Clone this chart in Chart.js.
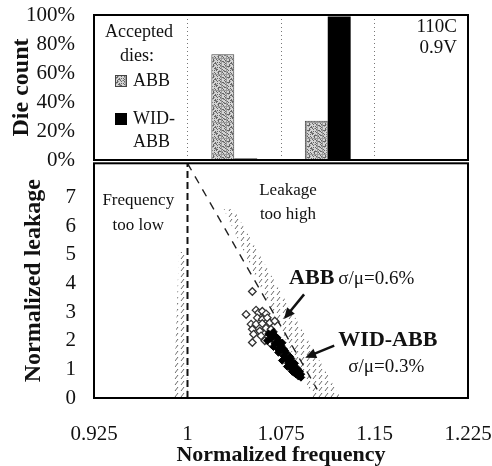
<!DOCTYPE html>
<html>
<head>
<meta charset="utf-8">
<script src="https://cdn.jsdelivr.net/npm/chart.js@4.4.1/dist/chart.umd.min.js"></script>
<style>
  html, body { margin: 0; padding: 0; background: #fff; }
  #wrap { position: relative; width: 492px; height: 466px; }
  #topBox { position: absolute; left: 0; top: 0; }
  #botBox { position: absolute; left: 0; top: 158px; }
</style>
</head>
<body>
<div id="wrap">
  <div id="botBox"><canvas id="leakChart" width="492" height="308"></canvas></div>
  <div id="topBox"><canvas id="countChart" width="492" height="178"></canvas></div>
</div>
<script>
// histogram bins of normalized frequency (same x range as the scatter below)
const binLabels = ['0.925-1', '1-1.075', '1.075-1.15', '1.15-1.225'];
const abbDieCount = [0, 73, 27, 0];
const widAbbDieCount = [0, 1, 99, 0];
const countTicks = [0, 20, 40, 60, 80, 100];

// scatter: normalized frequency / normalized leakage
const freqTicks = [0.925, 1, 1.075, 1.15, 1.225];
const leakTicks = [0, 1, 2, 3, 4, 5, 6, 7];

const abbFreq = [1.052, 1.047, 1.055, 1.057, 1.060, 1.063, 1.056, 1.060, 1.064, 1.051, 1.055, 1.060, 1.066, 1.070,
                 1.052, 1.058, 1.063, 1.067, 1.053, 1.059, 1.064, 1.068, 1.052, 1.062, 1.067, 1.071, 1.074];
const abbLeak = [3.72, 2.92, 3.07, 2.98, 3.03, 2.94, 2.80, 2.75, 2.80, 2.58, 2.58, 2.60, 2.63, 2.69,
                 2.40, 2.34, 2.44, 2.40, 2.23, 2.17, 2.11, 2.23, 1.94, 2.00, 1.89, 1.83, 1.71];

const widFreq = [1.065, 1.069, 1.071, 1.067, 1.073, 1.070, 1.075, 1.077, 1.073, 1.079, 1.077, 1.082, 1.080, 1.083, 1.081, 1.085,
                 1.082, 1.086, 1.084, 1.089, 1.091, 1.087, 1.072, 1.076, 1.078, 1.083, 1.086, 1.088, 1.090, 1.069, 1.074,
                 1.064, 1.069, 1.073, 1.076, 1.080, 1.085, 1.091, 1.089];
const widLeak = [2.24, 2.31, 2.14, 2.07, 2.00, 1.90, 1.83, 1.72, 1.69, 1.59, 1.48, 1.45, 1.34, 1.28, 1.21, 1.14,
                 1.07, 1.00, 0.93, 0.90, 0.83, 0.83, 2.10, 1.93, 1.66, 1.38, 1.21, 1.03, 0.93, 2.17, 1.86,
                 2.00, 1.79, 1.59, 1.31, 1.10, 0.90, 0.72, 0.76];

// limits
const minFreqLineX = [1, 1];
const minFreqLineY = [0, 8.2];
const maxLeakLineX = [1.0, 1.104];
const maxLeakLineY = [8.2, 0.3];
const lowBandX = [0.993, 0.999, 1.0, 0.989];
const lowBandY = [5.1, 5.1, 0, 0];
const leakBandX = [1.029, 1.037, 1.123, 1.101];
const leakBandY = [6.6, 6.6, 0, 0];

const pts = (xs, ys) => xs.map((x, i) => ({x: x, y: ys[i]}));

Chart.defaults.font.family = "'Liberation Serif', 'Times New Roman', serif";
Chart.defaults.color = '#111';

// keep the plot areas where the figure has them (no extra label overhang)
const noOverhang = s => { s.paddingTop = 0; s.paddingBottom = 0; s.paddingLeft = 0; s.paddingRight = 0; };

function makeSpeckle(ctx) {
  const c = document.createElement('canvas');
  c.width = 16; c.height = 16;
  const g = c.getContext('2d');
  g.fillStyle = '#d4d4d4';
  g.fillRect(0, 0, 16, 16);
  for (let i = 0; i < 16; i++) {
    for (let j = 0; j < 16; j++) {
      const h = (i * 73 + j * 151 + i * j * 29) % 11;
      if (h < 3) { g.fillStyle = '#666'; g.fillRect(i, j, 1, 1); }
      else if (h < 5) { g.fillStyle = '#9c9c9c'; g.fillRect(i, j, 1, 1); }
    }
  }
  return ctx.createPattern(c, 'repeat');
}

function makeHatch(ctx) {
  const c = document.createElement('canvas');
  c.width = 6; c.height = 6;
  const g = c.getContext('2d');
  g.strokeStyle = 'rgba(40,40,40,0.7)';
  g.lineWidth = 1;
  g.beginPath(); g.moveTo(1, 5); g.lineTo(4, 1); g.stroke();
  return ctx.createPattern(c, 'repeat');
}

// ---------- top: die count ----------
const topCtx = document.getElementById('countChart').getContext('2d');
const speckle = makeSpeckle(topCtx);

const countNotes = {
  id: 'countNotes',
  afterDraw(chart) {
    const {ctx, chartArea: a} = chart;
    ctx.save();
    ctx.fillStyle = '#111';
    ctx.textBaseline = 'middle';
    ctx.font = "18px 'Liberation Serif'";
    ctx.textAlign = 'center';
    ctx.fillText('Accepted', 139, 32);
    ctx.fillText('dies:', 137, 56);
    ctx.textAlign = 'left';
    ctx.fillStyle = speckle;
    ctx.fillRect(115, 75, 11, 11);
    ctx.strokeStyle = '#444'; ctx.lineWidth = 1;
    ctx.strokeRect(115.5, 75.5, 11, 11);
    ctx.fillStyle = '#000';
    ctx.fillRect(115, 113, 12, 12);
    ctx.fillStyle = '#111';
    ctx.fillText('ABB', 133, 81);
    ctx.fillText('WID-', 133, 119);
    ctx.fillText('ABB', 133, 142);
    ctx.font = "19px 'Liberation Serif'";
    ctx.textAlign = 'right';
    ctx.fillText('110C', 457, 27);
    ctx.fillText('0.9V', 457, 48);
    ctx.strokeStyle = '#000'; ctx.lineWidth = 2;
    ctx.strokeRect(a.left, a.top, a.right - a.left, a.bottom - a.top);
    ctx.restore();
  }
};

new Chart(topCtx, {
  type: 'bar',
  data: {
    labels: binLabels,
    datasets: [
      {label: 'ABB', data: abbDieCount, backgroundColor: speckle, borderColor: '#444', borderWidth: 1,
       categoryPercentage: 0.49, barPercentage: 1},
      {label: 'WID-ABB', data: widAbbDieCount, backgroundColor: '#000', borderWidth: 0,
       categoryPercentage: 0.49, barPercentage: 1}
    ]
  },
  options: {
    responsive: false,
    animation: false,
    layout: {padding: {top: 15, right: 24, bottom: 18, left: 0}},
    plugins: {legend: {display: false}, tooltip: {enabled: false}},
    scales: {
      x: {
        ticks: {display: false},
        grid: {color: '#777', lineWidth: 1, drawTicks: false, offset: true},
        border: {display: false, dash: [1, 3]},
        afterFit: s => { s.height = 0; noOverhang(s); }
      },
      y: {
        min: 0, max: 100,
        afterBuildTicks: s => { s.ticks = countTicks.map(v => ({value: v})); },
        afterFit: s => { s.width = 94; noOverhang(s); },
        ticks: {padding: 19, font: {size: 21}, autoSkip: false, callback: v => v + '%'},
        grid: {display: false, drawTicks: false},
        border: {display: false},
        title: {display: true, text: 'Die count', font: {size: 24, weight: 'bold'}, padding: {top: 7, bottom: 0}}
      }
    }
  },
  plugins: [countNotes]
});

// ---------- bottom: leakage vs frequency ----------
const botCtx = document.getElementById('leakChart').getContext('2d');
const hatch = makeHatch(botCtx);

const leakNotes = [
  {text: 'Frequency', x: 0.9605, y: 6.9, size: 17, bold: false, align: 'center'},
  {text: 'too low', x: 0.9605, y: 6.03, size: 17, bold: false, align: 'center'},
  {text: 'Leakage', x: 1.0806, y: 7.24, size: 17, bold: false, align: 'center'},
  {text: 'too high', x: 1.0806, y: 6.41, size: 17, bold: false, align: 'center'},
  {text: 'ABB', x: 1.0815, y: 4.17, size: 22, bold: true, align: 'left'},
  {text: 'σ/μ=0.6%', x: 1.121, y: 4.17, size: 19, bold: false, align: 'left'},
  {text: 'WID-ABB', x: 1.121, y: 2.0, size: 22, bold: true, align: 'left'},
  {text: 'σ/μ=0.3%', x: 1.129, y: 1.07, size: 19, bold: false, align: 'left'}
];
const leakArrows = [
  {x1: 1.0935, y1: 3.62, x2: 1.0774, y2: 2.76},
  {x1: 1.1177, y1: 1.83, x2: 1.0944, y2: 1.41}
];

const leakOverlay = {
  id: 'leakOverlay',
  afterDraw(chart) {
    const {ctx, chartArea: a, scales: {x, y}} = chart;
    ctx.save();
    ctx.fillStyle = '#111';
    ctx.textBaseline = 'middle';
    leakNotes.forEach(n => {
      ctx.font = (n.bold ? 'bold ' : '') + n.size + "px 'Liberation Serif'";
      ctx.textAlign = n.align;
      ctx.fillText(n.text, x.getPixelForValue(n.x), y.getPixelForValue(n.y));
    });
    ctx.strokeStyle = '#111'; ctx.fillStyle = '#111'; ctx.lineWidth = 2.5;
    leakArrows.forEach(r => {
      const x1 = x.getPixelForValue(r.x1), y1 = y.getPixelForValue(r.y1);
      const x2 = x.getPixelForValue(r.x2), y2 = y.getPixelForValue(r.y2);
      const ang = Math.atan2(y2 - y1, x2 - x1);
      ctx.beginPath();
      ctx.moveTo(x1, y1);
      ctx.lineTo(x2 - 7 * Math.cos(ang), y2 - 7 * Math.sin(ang));
      ctx.stroke();
      ctx.beginPath();
      ctx.moveTo(x2, y2);
      ctx.lineTo(x2 - 11 * Math.cos(ang) + 5 * Math.sin(ang), y2 - 11 * Math.sin(ang) - 5 * Math.cos(ang));
      ctx.lineTo(x2 - 11 * Math.cos(ang) - 5 * Math.sin(ang), y2 - 11 * Math.sin(ang) + 5 * Math.cos(ang));
      ctx.closePath();
      ctx.fill();
    });
    ctx.strokeStyle = '#000'; ctx.lineWidth = 2;
    ctx.strokeRect(a.left, a.top, a.right - a.left, a.bottom - a.top);
    ctx.restore();
  }
};

new Chart(botCtx, {
  type: 'scatter',
  data: {
    datasets: [
      {label: 'WID-ABB', data: pts(widFreq, widLeak), pointStyle: 'rectRot', pointRadius: 3.8,
       backgroundColor: '#000', borderColor: '#000', borderWidth: 1},
      {label: 'ABB', data: pts(abbFreq, abbLeak), pointStyle: 'rectRot', pointRadius: 3.8,
       backgroundColor: '#fff', borderColor: '#333', borderWidth: 1.3},
      {label: 'max leakage', data: pts(maxLeakLineX, maxLeakLineY), showLine: true, pointRadius: 0,
       borderColor: '#222', borderWidth: 1.4, borderDash: [8, 7]},
      {label: 'min frequency', data: pts(minFreqLineX, minFreqLineY), showLine: true, pointRadius: 0,
       borderColor: '#111', borderWidth: 2, borderDash: [7, 4]},
      {label: 'leak band', data: pts(leakBandX, leakBandY), showLine: true, pointRadius: 0,
       borderWidth: 0, borderColor: 'rgba(0,0,0,0)', backgroundColor: hatch, fill: 'shape'},
      {label: 'low band', data: pts(lowBandX, lowBandY), showLine: true, pointRadius: 0,
       borderWidth: 0, borderColor: 'rgba(0,0,0,0)', backgroundColor: hatch, fill: 'shape'}
    ]
  },
  options: {
    responsive: false,
    animation: false,
    layout: {padding: {top: 2, right: 24, bottom: 0, left: 0}},
    plugins: {legend: {display: false}, tooltip: {enabled: false}},
    scales: {
      x: {
        type: 'linear', min: 0.925, max: 1.225,
        afterBuildTicks: s => { s.ticks = freqTicks.map(v => ({value: v})); },
        afterFit: s => { s.height = 68; noOverhang(s); },
        ticks: {padding: 24, font: {size: 21}, autoSkip: false, maxRotation: 0, callback: v => String(v)},
        grid: {display: false, drawTicks: false},
        border: {display: false},
        title: {display: true, text: 'Normalized frequency', font: {size: 22, weight: 'bold', lineHeight: 1},
                padding: {top: 0, bottom: 0}}
      },
      y: {
        min: 0, max: 8.2,
        afterBuildTicks: s => { s.ticks = leakTicks.map(v => ({value: v})); },
        afterFit: s => { s.width = 94; noOverhang(s); },
        ticks: {padding: 18, font: {size: 21}, autoSkip: false, callback: v => String(v)},
        grid: {display: false, drawTicks: false},
        border: {display: false},
        title: {display: true, text: 'Normalized leakage', font: {size: 24, weight: 'bold'}, padding: {top: 19, bottom: 0}}
      }
    }
  },
  plugins: [leakOverlay]
});
</script>
</body>
</html>
